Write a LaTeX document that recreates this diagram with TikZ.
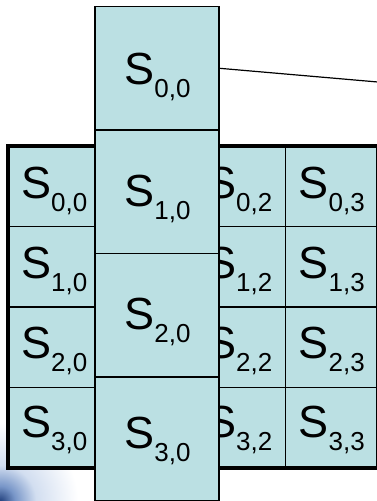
\documentclass[tikz,border=0pt]{standalone}
\usepackage{fontspec}
\setmainfont{Liberation Sans}
\usetikzlibrary{fit}
\definecolor{cellfill}{RGB}{187,224,227}
\definecolor{swdark}{RGB}{35,65,125}
\definecolor{swmid}{RGB}{120,150,200}
\definecolor{swlight}{RGB}{210,222,240}
\pgfdeclareradialshading{swooshshade}{\pgfpoint{0bp}{0bp}}{color(0bp)=(swdark); color(2.5bp)=(swmid); color(6bp)=(swlight); color(13bp)=(white); color(25bp)=(white); color(50bp)=(white)}
\newcommand{\Slab}[2]{S\raisebox{-12.5pt}{\fontsize{26}{26}\selectfont #1,#2}}
\tikzset{
  gcell/.style={draw=black, line width=1.3pt, fill=cellfill, minimum width=92.5pt, minimum height=80.75pt, inner sep=0pt, outer sep=0pt},
  ccell/.style={draw=black, line width=1.3pt, fill=cellfill, minimum width=124pt, minimum height=123.5pt, inner sep=0pt, outer sep=0pt},
  lab/.style={anchor=base, inner sep=0pt, font=\fontsize{45}{45}\selectfont}
}
\begin{document}
\begin{tikzpicture}[x=1pt,y=1pt]
\useasboundingbox (0,0) rectangle (376,501);
% background swoosh (bottom-left corner)
\begin{scope}
\clip (0,0) rectangle (96,120);
\shade[shading=swooshshade] (0,0) circle (150);
\end{scope}
% grid cells
\foreach \r/\cy/\by in {0/315.1/302,1/234.4/222,2/153.6/142,3/72.9/63}{
  \foreach \c/\cx in {0/54.25,1/146.75,2/239.25,3/331.75}{
    \node[gcell] (g\r\c) at (\cx,\cy) {};
  }
  \foreach \c/\cx in {0/54.25,2/239.25,3/331.75}{
    \node[lab] (t\r\c) at (\cx,\by) {\Slab{\r}{\c}};
  }
}
% thick outer border
\node[draw=black, line width=4pt, fit={(g00.north west) (g33.south east)}, inner sep=0pt] (frame) {};
% tall column
\foreach \r/\cy/\by in {0/432.75/416,1/309.25/294,2/185.75/171,3/62.25/52}{
  \node[ccell] (c\r) at (157,\cy) {};
  \node[lab] (s\r) at (157.5,\by) {\Slab{\r}{0}};
}
% connector
\coordinate (lineend) at (395,417.5);
\draw[line width=1.2pt] (c0.east) -- (lineend);
\end{tikzpicture}
\end{document}
